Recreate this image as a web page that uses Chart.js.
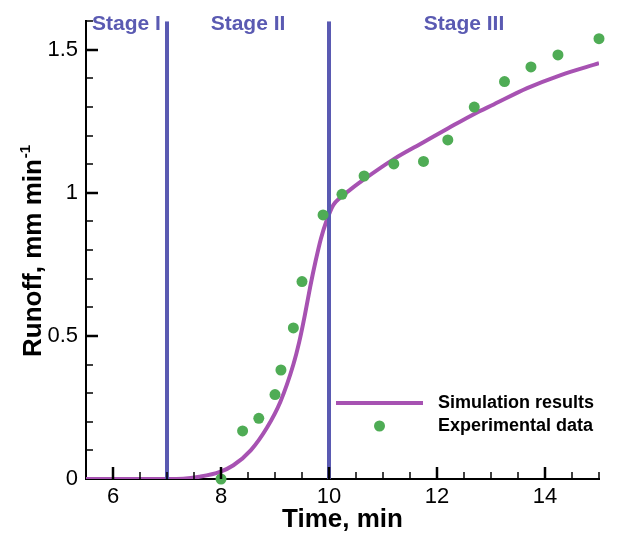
<!DOCTYPE html>
<html>
<head>
<meta charset="utf-8">
<style>
  html, body { margin: 0; padding: 0; background: #fff; }
  #wrap { width: 618px; height: 533px; }
</style>
<script src="https://cdn.jsdelivr.net/npm/chart.js@4.4.1/dist/chart.umd.min.js"></script>
</head>
<body>
<div id="wrap"><canvas id="runoffChart" width="618" height="533"></canvas></div>
<script>
// simulated runoff curve (min, mm/min)
const simTime = [5.5, 7.0, 7.3, 7.6, 7.98, 8.23, 8.55, 8.85, 9.1, 9.34, 9.45, 9.55, 9.65, 9.75, 9.85, 9.95, 10.08, 10.2, 10.4, 10.64, 11.2, 11.75, 12.2, 12.69, 13.05, 13.67, 14.28, 15.0];
const simRunoff = [0, 0, 0.001, 0.008, 0.025, 0.048, 0.10, 0.179, 0.27, 0.40, 0.48, 0.57, 0.67, 0.76, 0.84, 0.90, 0.958, 0.982, 1.012, 1.046, 1.118, 1.177, 1.225, 1.276, 1.309, 1.366, 1.411, 1.453];

// measured points
const expTime = [8.0, 8.4, 8.7, 9.0, 9.11, 9.34, 9.5, 9.89, 10.24, 10.65, 11.2, 11.75, 12.2, 12.69, 13.25, 13.74, 14.24, 15.0];
const expRunoff = [0.0, 0.168, 0.212, 0.295, 0.381, 0.528, 0.69, 0.923, 0.995, 1.059, 1.101, 1.11, 1.185, 1.30, 1.389, 1.44, 1.482, 1.539];

const stageBounds = [7, 10];
const stageNames = ['Stage I', 'Stage II', 'Stage III'];
const seriesNames = ['Simulation results', 'Experimental data'];

const xRange = [5.5, 15];
const yRange = [0, 1.6];
const xTicks = [6, 8, 10, 12, 14];
const yTicks = [0, 0.5, 1, 1.5];

const FONT = '"Liberation Sans", Arial, Helvetica, sans-serif';
const simColor = '#a752b2';
const expColor = '#4fac55';
const stageColor = '#5a5ab2';

const decorPlugin = {
    id: 'decor',
    afterDraw(chart) {
        const ctx = chart.ctx;
        const a = chart.chartArea;
        const x = chart.scales.x;
        const y = chart.scales.y;
        ctx.save();
        ctx.strokeStyle = '#000';

        // inward ticks on the bottom axis
        for (let v = Math.ceil(xRange[0] * 2) / 2; v <= xRange[1] + 1e-9; v += 0.5) {
            if (v <= xRange[0]) continue;
            const px = Math.round(x.getPixelForValue(v));
            const major = xTicks.includes(v);
            ctx.lineWidth = major ? 2.5 : 1.5;
            ctx.beginPath();
            ctx.moveTo(px, a.bottom);
            ctx.lineTo(px, a.bottom - (major ? 12 : 7));
            ctx.stroke();
        }
        // inward ticks on the left axis
        for (let i = 1; i <= Math.round(yRange[1] * 10); i++) {
            const v = i / 10;
            const py = Math.round(y.getPixelForValue(v));
            const major = yTicks.some(t => Math.abs(t - v) < 1e-9);
            ctx.lineWidth = major ? 2.5 : 1.5;
            ctx.beginPath();
            ctx.moveTo(a.left, py);
            ctx.lineTo(a.left + (major ? 12 : 7), py);
            ctx.stroke();
        }

        // stage labels
        const edges = [xRange[0], ...stageBounds, xRange[1]];
        ctx.fillStyle = stageColor;
        ctx.font = 'bold 21px ' + FONT;
        ctx.textAlign = 'center';
        ctx.textBaseline = 'alphabetic';
        stageNames.forEach((name, i) => {
            const cx = (x.getPixelForValue(edges[i]) + x.getPixelForValue(edges[i + 1])) / 2;
            ctx.fillText(name, cx, 30);
        });

        // axis titles
        ctx.fillStyle = '#000';
        ctx.font = 'bold 26px ' + FONT;
        ctx.textAlign = 'center';
        ctx.fillText('Time, min', (a.left + a.right) / 2, 527);

        ctx.save();
        ctx.translate(41, 357);
        ctx.rotate(-Math.PI / 2);
        ctx.textAlign = 'left';
        const main = 'Runoff, mm min';
        ctx.fillText(main, 0, 0);
        const w = ctx.measureText(main).width;
        ctx.font = 'bold 15px ' + FONT;
        ctx.fillText('-1', w + 1, -11);
        ctx.restore();

        // legend
        ctx.strokeStyle = simColor;
        ctx.lineWidth = 4;
        ctx.beginPath();
        ctx.moveTo(336, 403);
        ctx.lineTo(423, 403);
        ctx.stroke();
        ctx.fillStyle = expColor;
        ctx.beginPath();
        ctx.arc(379.5, 426, 5.5, 0, Math.PI * 2);
        ctx.fill();
        ctx.fillStyle = '#000';
        ctx.font = 'bold 18px ' + FONT;
        ctx.textAlign = 'left';
        ctx.textBaseline = 'middle';
        ctx.fillText(seriesNames[0], 438, 403);
        ctx.fillText(seriesNames[1], 438, 426);
        ctx.restore();
    }
};

function buildChart() {
    const ctx = document.getElementById('runoffChart').getContext('2d');

    const stageSets = stageBounds.map(b => ({
        data: [{ x: b, y: yRange[0] }, { x: b, y: yRange[1] }],
        borderColor: stageColor,
        borderWidth: 4,
        pointRadius: 0,
        order: 2
    }));

    window.runoffChart = new Chart(ctx, {
        type: 'line',
        data: {
            datasets: [
                {
                    label: seriesNames[1],
                    data: expTime.map((t, i) => ({ x: t, y: expRunoff[i] })),
                    showLine: false,
                    pointRadius: 5.5,
                    pointBackgroundColor: expColor,
                    pointBorderWidth: 0,
                    clip: false,
                    order: 1
                },
                ...stageSets,
                {
                    label: seriesNames[0],
                    data: simTime.map((t, i) => ({ x: t, y: simRunoff[i] })),
                    borderColor: simColor,
                    borderWidth: 4,
                    pointRadius: 0,
                    cubicInterpolationMode: 'monotone',
                    order: 3
                }
            ]
        },
        options: {
            responsive: false,
            animation: false,
            layout: { padding: { top: 11, right: 19, left: 0, bottom: 0 } },
            plugins: {
                legend: { display: false },
                tooltip: { enabled: false }
            },
            scales: {
                x: {
                    type: 'linear',
                    min: xRange[0],
                    max: xRange[1],
                    afterBuildTicks: s => { s.ticks = xTicks.map(v => ({ value: v })); },
                    afterFit: s => { s.height = 54; },
                    grid: { display: false, drawTicks: false },
                    border: { display: true, color: '#000', width: 2 },
                    ticks: {
                        color: '#000',
                        font: { family: FONT, size: 22 },
                        padding: 5,
                        maxRotation: 0,
                        autoSkip: false,
                        callback: v => String(v)
                    }
                },
                y: {
                    min: yRange[0],
                    max: yRange[1],
                    afterBuildTicks: s => { s.ticks = yTicks.map(v => ({ value: v })); },
                    afterFit: s => { s.width = 86; },
                    grid: { display: false, drawTicks: false },
                    border: { display: true, color: '#000', width: 2 },
                    ticks: {
                        color: '#000',
                        font: { family: FONT, size: 22 },
                        padding: 8,
                        callback: v => String(v)
                    }
                }
            }
        },
        plugins: [decorPlugin]
    });
}

document.addEventListener('DOMContentLoaded', function() {
    buildChart();
});
</script>
</body>
</html>
